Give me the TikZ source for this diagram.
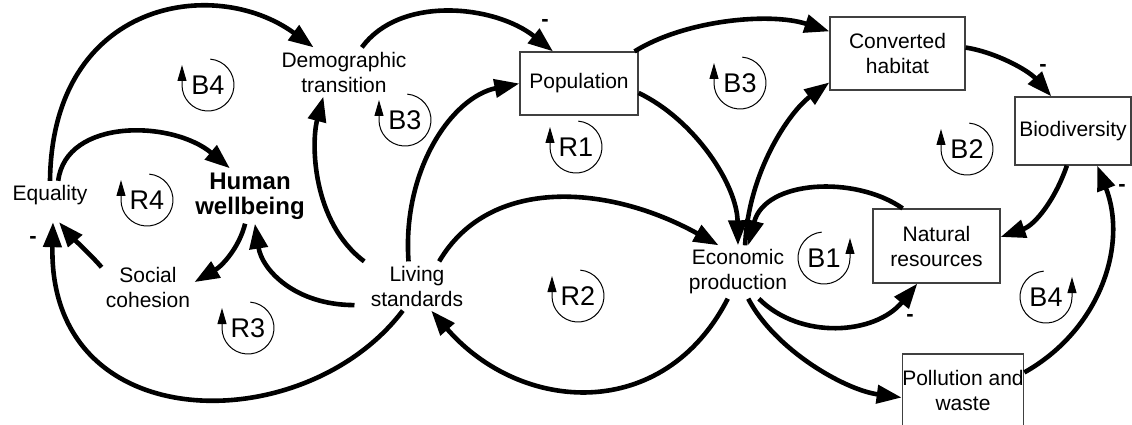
\documentclass[tikz,border=0pt]{standalone}
\usepackage{fontspec}
\setmainfont{Liberation Sans}
\usetikzlibrary{arrows.meta}
\begin{document}
\begin{tikzpicture}[x=0.5pt,y=0.5pt,
  lbl/.style={align=center,font=\fontsize{10.5}{12.5}\selectfont,inner sep=2pt},
  box/.style={lbl,draw=black!75,line width=0.6pt},
  arr/.style={line width=2.3pt,-{Triangle[length=12.5pt,width=9pt]}},
  loopline/.style={line width=0.5pt,-{Triangle[length=8pt,width=4.5pt]}},
  looplbl/.style={font=\fontsize{13.5}{15}\selectfont,inner sep=0pt},
  sign/.style={font=\fontsize{11}{12}\selectfont\bfseries,inner sep=0pt}]
\useasboundingbox (0,0) rectangle (1132,424);
\node[lbl] (eq) at (50,229) {Equality};
\node[lbl,font=\fontsize{12}{12.5}\selectfont\bfseries] (hw) at (250,228) {Human\\wellbeing};
\node[lbl] (sc) at (148,137) {Social\\cohesion};
\node[lbl] (dt) at (344,352) {Demographic\\transition};
\node[lbl,inner xsep=8pt] (ls) at (417,138) {Living\\standards};
\node[lbl] (ep) at (738,152) {Economic\\production};
\node[box,minimum width=59pt,minimum height=31.5pt] (pop) at (579,340.5) {Population};
\node[box,minimum width=67.5pt,minimum height=36.5pt] (ch) at (897.5,370.5) {Converted\\habitat};
\node[box,minimum width=58pt,minimum height=34pt] (bd) at (1073,293) {Biodiversity};
\node[box,minimum width=63.5pt,minimum height=37pt] (nr) at (936.5,178) {Natural\\resources};
\node[box,minimum width=60pt,minimum height=36pt,inner xsep=0pt] (pw) at (963,34) {Pollution and\\waste};

\draw[arr] (eq.north) .. controls (52,424) and (215,449) .. (dt.141);
\draw[arr] (eq.60) .. controls (66,306) and (172,304) .. (hw.126);
\draw[arr] (hw.-100) .. controls (239,176) and (222,158) .. (sc.6);
\draw[arr] (sc.157) .. controls (93,167) and (70,189) .. ([shift={(9,-13)}]eq.south);
\draw[arr] (ls.240) .. controls (305,-16) and (48,-16) .. ([shift={(3,-13)}]eq.south);
\draw[arr] (ls.197) .. controls (295,119) and (262,154) .. (hw.-80);
\draw[arr] (ls.155) .. controls (312,202) and (311,281) .. (dt.230);
\draw[arr] (dt.54) .. controls (400,429) and (495,419) .. (pop.129);
\draw[arr] (ls.109) .. controls (402,254) and (452,327) .. (pop.west);
\draw[arr] (ls.48) .. controls (490,249) and (610,239) .. (ep.126);
\draw[arr] (ep.249) .. controls (664,1) and (521,10) .. (ls.300);
\draw[arr] (pop.-9) .. controls (695,304) and (737,239) .. (ep.north);
\draw[arr] (pop.30) .. controls (685,404) and (770,412) .. (ch.162);
\draw[arr] (ep.75) .. controls (748,251) and (789,312) .. (ch.203);
\draw[arr] (ch.5) .. controls (995,372) and (1028,354) .. (bd.122);
\draw[arr] (bd.260) .. controls (1055,224) and (1035,199) .. (nr.8);
\draw[arr] (nr.132) .. controls (855,249) and (765,244) .. (ep.69);
\draw[arr] (ep.-52) .. controls (800,84) and (875,89) .. (nr.243);
\draw[arr] (ep.-69) .. controls (775,74) and (845,34) .. (pw.187);
\draw[arr] (pw.16) .. controls (1100,94) and (1128,179) .. (bd.-55);

\node[sign] (s1) at (545,401) {-};
\node[sign] (s2) at (33,184) {-};
\node[sign] (s3) at (1043,356) {-};
\node[sign] (s4) at (910,106) {-};
\node[sign] (s5) at (1122,236) {-};

\draw[loopline] (208,339) ++(85:13pt) arc[start angle=85,end angle=-180,radius=13pt] -- ++(0,20);
\node[looplbl] (b4a) at (208,339) {B4};
\draw[loopline] (147,224) ++(85:13pt) arc[start angle=85,end angle=-180,radius=13pt] -- ++(0,20);
\node[looplbl] (r4) at (147,224) {R4};
\draw[loopline] (248,96) ++(85:13pt) arc[start angle=85,end angle=-180,radius=13pt] -- ++(0,20);
\node[looplbl] (r3) at (248,96) {R3};
\draw[loopline] (405,304) ++(85:13pt) arc[start angle=85,end angle=-180,radius=13pt] -- ++(0,20);
\node[looplbl] (b3a) at (405,304) {B3};
\draw[loopline] (576,277) ++(85:13pt) arc[start angle=85,end angle=-180,radius=13pt] -- ++(0,20);
\node[looplbl] (r1) at (576,277) {R1};
\draw[loopline] (578,128) ++(85:13pt) arc[start angle=85,end angle=-180,radius=13pt] -- ++(0,20);
\node[looplbl] (r2) at (578,128) {R2};
\draw[loopline] (740,341) ++(85:13pt) arc[start angle=85,end angle=-180,radius=13pt] -- ++(0,20);
\node[looplbl] (b3b) at (740,341) {B3};
\draw[loopline] (967,275) ++(85:13pt) arc[start angle=85,end angle=-180,radius=13pt] -- ++(0,20);
\node[looplbl] (b2) at (967,275) {B2};
\draw[loopline] (824,166) ++(95:13pt) arc[start angle=95,end angle=360,radius=13pt] -- ++(0,20);
\node[looplbl] (b1) at (824,166) {B1};
\draw[loopline] (1046,127) ++(95:13pt) arc[start angle=95,end angle=360,radius=13pt] -- ++(0,20);
\node[looplbl] (b4b) at (1046,127) {B4};
\end{tikzpicture}
\end{document}
